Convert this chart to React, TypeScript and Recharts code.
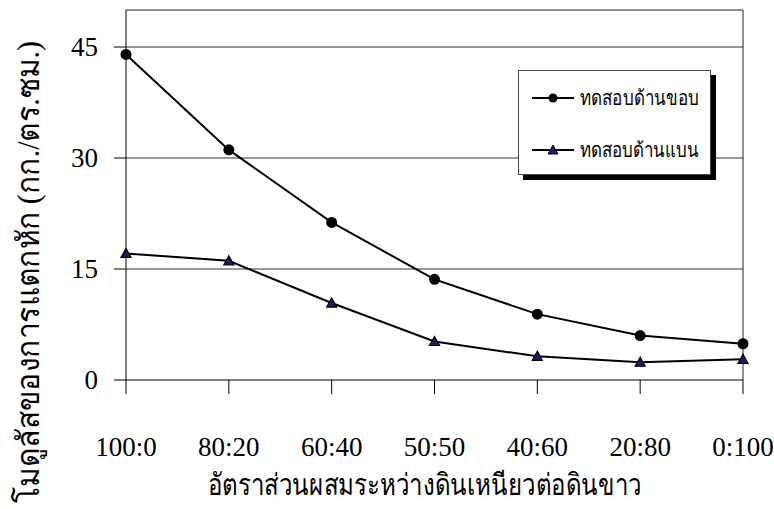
import React from 'react'
import {
  LineChart,
  Line,
  XAxis,
  YAxis,
  CartesianGrid,
  ReferenceLine,
  Label,
} from 'recharts'

const ratios = ['100:0', '80:20', '60:40', '50:50', '40:60', '20:80', '0:100']
const edgeTest = [44.0, 31.1, 21.3, 13.6, 8.9, 6.0, 4.9]
const flatTest = [17.1, 16.1, 10.4, 5.2, 3.2, 2.4, 2.8]
const yTicks = [0, 15, 30, 45]

const edgeName = 'ทดสอบด้านขอบ'
const flatName = 'ทดสอบด้านแบน'
const xTitle = 'อัตราส่วนผสมระหว่างดินเหนียวต่อดินขาว'
const yTitle = 'โมดูลัสของการแตกหัก (กก./ตร.ซม.)'

const data = ratios.map((r, i) => ({ ratio: r, edge: edgeTest[i], flat: flatTest[i] }))

const serif = 'Liberation Serif'

const Triangle = (props: any) => {
  const { cx, cy } = props
  if (cx == null || cy == null) return null
  return (
    <path
      d={`M${cx},${cy - 5} L${cx + 5},${cy + 4} L${cx - 5},${cy + 4} Z`}
      fill="#1c1c6b"
      stroke="#000"
      strokeWidth={1.2}
    />
  )
}

// tick text drawn directly so the serif face is applied for sure
const XTick = (props: any) => {
  const { x, y, payload } = props
  return (
    <text x={x} y={y} dy={18} textAnchor="middle" fontSize={27} fill="#000" style={{ fontFamily: serif }}>
      {payload.value}
    </text>
  )
}

const YTick = (props: any) => {
  const { x, y, payload } = props
  return (
    <text x={x} y={y} dy={9} textAnchor="end" fontSize={27} fill="#000" style={{ fontFamily: serif }}>
      {payload.value}
    </text>
  )
}

// titles squeezed to the width the condensed Thai font takes in the original
const XTitle = () => (
  <text x={425} y={495} textAnchor="middle" fontSize={30} fill="#000" textLength={434} lengthAdjust="spacingAndGlyphs">
    {xTitle}
  </text>
)

const YTitle = () => (
  <text
    transform="translate(39,272) rotate(-90)"
    textAnchor="middle"
    fontSize={31}
    fill="#000"
    textLength={462}
    lengthAdjust="spacingAndGlyphs"
  >
    {yTitle}
  </text>
)

const LegendBox = () => (
  <svg width={210} height={112} style={{ position: 'absolute', left: 518, top: 70 }}>
    <rect x={5} y={5} width={193} height={105} fill="#000" />
    <rect x={0.5} y={0.5} width={192} height={104} fill="#fff" stroke="#444" />
    {[edgeName, flatName].map((name, i) => {
      const y = 28 + i * 52
      return (
        <g key={name}>
          <line x1={14} y1={y} x2={56} y2={y} stroke="#000" strokeWidth={2} />
          {i === 0 ? (
            <circle cx={35} cy={y} r={4.5} fill="#000" />
          ) : (
            <path d={`M35,${y - 5} L40,${y + 4} L30,${y + 4} Z`} fill="#1c1c6b" stroke="#000" />
          )}
          <text x={62} y={y + 7} fontSize={20} fill="#000" textLength={119} lengthAdjust="spacingAndGlyphs">
            {name}
          </text>
        </g>
      )
    })}
  </svg>
)

export default function App() {
  return (
    <div style={{ position: 'absolute', left: 0, top: 0, width: 774, height: 509, background: '#fff' }}>
      <LineChart width={774} height={509} data={data} margin={{ top: 10, right: 31, bottom: 0, left: 0 }}>
        <CartesianGrid vertical={false} stroke="#333" horizontalValues={[15, 30, 45]} />
        <ReferenceLine y={50} stroke="#222" />
        <ReferenceLine x="0:100" stroke="#222" />
        <XAxis
          dataKey="ratio"
          scale="point"
          padding={{ left: 0, right: 0 }}
          height={129}
          tickSize={14}
          tickMargin={44}
          axisLine={{ stroke: '#000' }}
          tickLine={{ stroke: '#000' }}
          tick={<XTick />}
        >
          <Label content={<XTitle />} />
        </XAxis>
        <YAxis
          domain={[0, 50]}
          ticks={yTicks}
          width={126}
          tickSize={12}
          tickMargin={16}
          axisLine={{ stroke: '#000' }}
          tickLine={{ stroke: '#000' }}
          tick={<YTick />}
        >
          <Label content={<YTitle />} />
        </YAxis>
        <Line
          dataKey="edge"
          name={edgeName}
          stroke="#000"
          strokeWidth={2}
          dot={{ r: 4.5, fill: '#000', stroke: '#000' }}
          isAnimationActive={false}
        />
        <Line
          dataKey="flat"
          name={flatName}
          stroke="#000"
          strokeWidth={2}
          dot={<Triangle />}
          isAnimationActive={false}
        />
      </LineChart>
      <LegendBox />
    </div>
  )
}
